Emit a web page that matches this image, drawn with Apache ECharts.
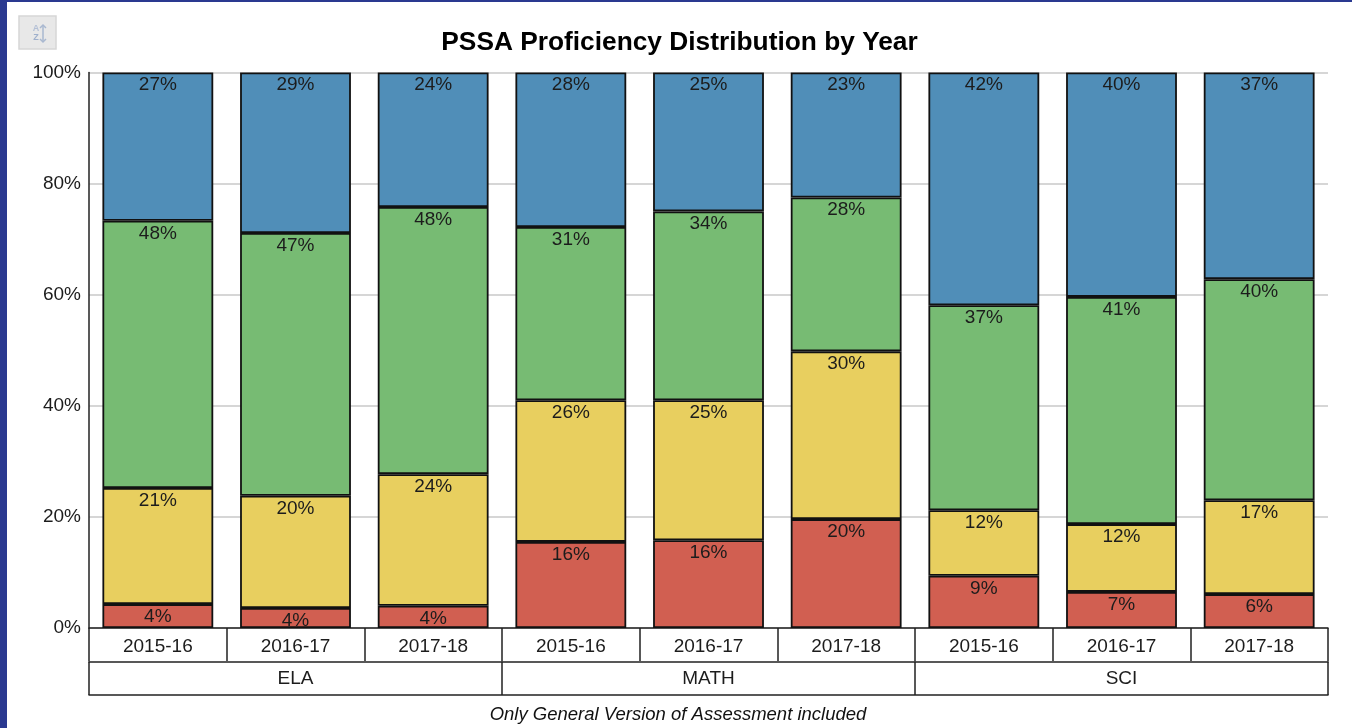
<!DOCTYPE html>
<html>
<head>
<meta charset="utf-8">
<title>PSSA Proficiency Distribution by Year</title>
<script src="https://cdn.jsdelivr.net/npm/echarts@6/dist/echarts.min.js"></script>
<style>
    html, body { margin: 0; padding: 0; background: #fff; overflow: hidden; }
    /* navy page frame behind the chart */
    .bandLeft { position: absolute; left: 0; top: 0; width: 7px; height: 728px; background: #2a3990; }
    .bandTop { position: absolute; left: 0; top: 0; width: 1352px; height: 2px; background: #2a3990; }
    #main { position: absolute; left: 0; top: 0; width: 1352px; height: 728px; }
</style>
</head>
<body>
<div class="bandLeft"></div>
<div class="bandTop"></div>
<div id="main"></div>
<script>
    var years = ["2015-16", "2016-17", "2017-18", "2015-16", "2016-17", "2017-18", "2015-16", "2016-17", "2017-18"];
    var subjects = ["ELA", "MATH", "SCI"];
    var yTicks = [0, 20, 40, 60, 80, 100];

    // bottom segment first
    var below = [4.3, 3.6, 4.0, 15.5, 15.8, 19.6, 9.4, 6.5, 6.1];
    var basic = [20.9, 20.2, 23.7, 25.5, 25.2, 30.2, 11.8, 12.2, 16.9];
    var proficient = [48.1, 47.3, 48.1, 31.2, 34.0, 27.7, 36.9, 40.9, 39.8];
    var advanced = [26.7, 28.9, 24.2, 27.8, 25.0, 22.5, 41.9, 40.4, 37.2];

    var FONT = '"Liberation Sans", Arial, sans-serif';
    var TEXT = '#1c1c1c';

    function segment(name, values, color) {
        return {
            name: name,
            type: 'bar',
            stack: 'total',
            barWidth: '80.5%',
            data: values,
            itemStyle: { color: color, borderColor: '#111', borderWidth: 1.8 },
            label: {
                show: true,
                position: 'insideTop',
                distance: 3,
                fontFamily: FONT,
                fontSize: 19,
                color: TEXT,
                formatter: function (p) { return Math.round(p.value) + '%'; }
            }
        };
    }

    var axisLine = { show: true, lineStyle: { color: '#222', width: 1.5 } };

    var option = {
        animation: false,
        title: [{
            // title boxes carry 5px padding, so left sits 5 short of the centre
            text: 'PSSA Proficiency Distribution by Year',
            left: 674.5,
            top: 25,
            textAlign: 'center',
            textStyle: { fontFamily: FONT, fontSize: 26.3, fontWeight: 'bold', color: '#000' }
        }, {
            text: 'Only General Version of Assessment included',
            left: 673,
            top: 700,
            textAlign: 'center',
            textStyle: { fontFamily: FONT, fontSize: 18.5, fontStyle: 'italic', fontWeight: 'normal', color: '#111' }
        }],
        grid: { left: 89, right: 24, top: 72.5, bottom: 100 },
        xAxis: [{
            type: 'category',
            data: years,
            axisLine: axisLine,
            axisTick: { show: true, length: 33, lineStyle: { color: '#222', width: 1.5 } },
            axisLabel: { interval: 0, margin: 9, fontFamily: FONT, fontSize: 19, color: TEXT }
        }, {
            type: 'category',
            position: 'bottom',
            offset: 33.5,
            data: subjects,
            axisLine: axisLine,
            axisTick: { show: true, length: 33.5, lineStyle: { color: '#222', width: 1.5 } },
            axisLabel: { interval: 0, margin: 8, fontFamily: FONT, fontSize: 19, color: TEXT }
        }, {
            // closes the bottom of the subject row
            type: 'category',
            position: 'bottom',
            offset: 67,
            data: subjects,
            axisLine: axisLine,
            axisTick: { show: false },
            axisLabel: { show: false }
        }],
        yAxis: {
            type: 'value',
            min: yTicks[0],
            max: yTicks[yTicks.length - 1],
            interval: yTicks[1] - yTicks[0],
            axisLine: { show: true, lineStyle: { color: '#222', width: 1.5 } },
            axisTick: { show: false },
            axisLabel: {
                margin: 8,
                fontFamily: FONT,
                fontSize: 19,
                color: TEXT,
                formatter: '{value}%'
            },
            splitLine: { show: true, lineStyle: { color: '#c8c8c8', width: 1.5 } }
        },
        series: [
            segment('Below Basic', below, '#d15f51'),
            segment('Basic', basic, '#e8cf5f'),
            segment('Proficient', proficient, '#77bb73'),
            segment('Advanced', advanced, '#508eb8')
        ],
        // sort button, top left
        graphic: [{
            type: 'rect',
            shape: { x: 19, y: 16, width: 37, height: 33 },
            style: { fill: '#e8e8e8', stroke: '#d6d6d6', lineWidth: 1.5 }
        }, {
            type: 'text',
            style: { x: 36, y: 29, text: 'A', fontFamily: FONT, fontSize: 9, fontWeight: 'bold', fill: '#b4c0d6', align: 'center', verticalAlign: 'middle' }
        }, {
            type: 'text',
            style: { x: 36, y: 38, text: 'Z', fontFamily: FONT, fontSize: 9, fontWeight: 'bold', fill: '#9fb0cc', align: 'center', verticalAlign: 'middle' }
        }, {
            type: 'polyline',
            shape: { points: [[43, 25], [43, 42]] },
            style: { stroke: '#a9b8d0', lineWidth: 1.5 }
        }, {
            type: 'polyline',
            shape: { points: [[40, 28], [43, 25], [46, 28]] },
            style: { stroke: '#a9b8d0', lineWidth: 1.5, fill: 'none' }
        }, {
            type: 'polyline',
            shape: { points: [[40, 39], [43, 42], [46, 39]] },
            style: { stroke: '#a9b8d0', lineWidth: 1.5, fill: 'none' }
        }]
    };

    var chartObj = echarts.init(document.getElementById('main'));
    chartObj.setOption(option);
    window.addEventListener('resize', function () {
        chartObj.resize();
    });
</script>
</body>
</html>
